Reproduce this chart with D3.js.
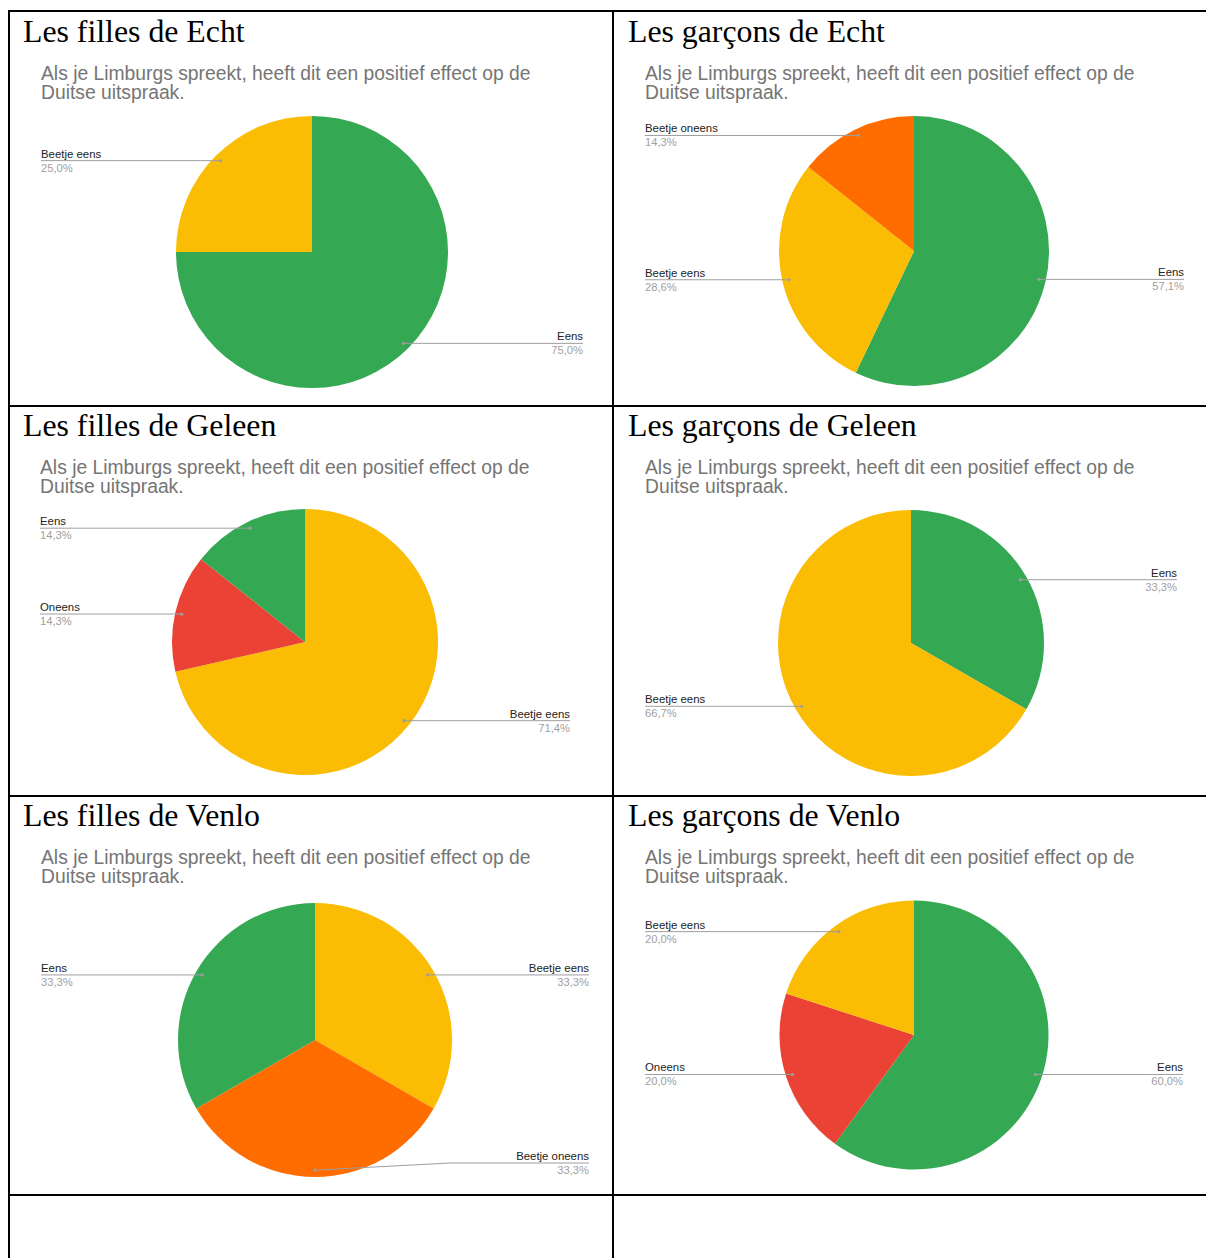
<!DOCTYPE html>
<html>
<head>
<meta charset="utf-8">
<script src="https://cdn.jsdelivr.net/npm/d3@7"></script>
<style>
  body { margin: 0; background: #fff; }
  svg { display: block; }
</style>
</head>
<body>
<svg width="1206" height="1258"></svg>
<script>
  // titles of the six cells
  var titles = ["Les filles de Echt", "Les garçons de Echt",
                "Les filles de Geleen", "Les garçons de Geleen",
                "Les filles de Venlo", "Les garçons de Venlo"];
  var question = ["Als je Limburgs spreekt, heeft dit een positief effect op de", "Duitse uitspraak."];

  // slices per chart, in drawing order (clockwise from 12 o'clock)
  var echtFillesLabels = ["Eens", "Beetje eens"];
  var echtFillesValues = [75.0, 25.0];
  var echtGarconsLabels = ["Eens", "Beetje eens", "Beetje oneens"];
  var echtGarconsValues = [57.1, 28.6, 14.3];
  var geleenFillesLabels = ["Beetje eens", "Oneens", "Eens"];
  var geleenFillesValues = [71.4, 14.3, 14.3];
  var geleenGarconsLabels = ["Eens", "Beetje eens"];
  var geleenGarconsValues = [33.3, 66.7];
  var venloFillesLabels = ["Beetje eens", "Beetje oneens", "Eens"];
  var venloFillesValues = [33.3, 33.3, 33.3];
  var venloGarconsLabels = ["Eens", "Oneens", "Beetje eens"];
  var venloGarconsValues = [60.0, 20.0, 20.0];

  var answers = ["Eens", "Beetje eens", "Beetje oneens", "Oneens"];
  var answerColors = ["#34a853", "#fbbc04", "#ff6d01", "#ea4335"];

  var labelSets = [echtFillesLabels, echtGarconsLabels, geleenFillesLabels, geleenGarconsLabels, venloFillesLabels, venloGarconsLabels];
  var valueSets = [echtFillesValues, echtGarconsValues, geleenFillesValues, geleenGarconsValues, venloFillesValues, venloGarconsValues];

  // layout of each cell (title origin, pie centre/radius, label columns)
  var layout = [
    {tx: 23,  ty: 42,  cx: 312, cy: 252,  r: 136,   left: 41,  right: 583,  maxY: 9999},
    {tx: 628, ty: 42,  cx: 914, cy: 251,  r: 135,   left: 645, right: 1184, maxY: 9999},
    {tx: 23,  ty: 436, cx: 305, cy: 642,  r: 133,   left: 40,  right: 570,  maxY: 9999},
    {tx: 628, ty: 436, cx: 911, cy: 643,  r: 133,   left: 645, right: 1177, maxY: 9999},
    {tx: 23,  ty: 826, cx: 315, cy: 1040, r: 137,   left: 41,  right: 589,  maxY: 1163},
    {tx: 628, ty: 826, cx: 914, cy: 1035, r: 134.5, left: 645, right: 1183, maxY: 9999}
  ];

  var svg = d3.select("svg");
  svg.append("rect").attr("width", 1206).attr("height", 1258).attr("fill", "#fff");

  var color = d3.scaleOrdinal().domain(answers).range(answerColors);
  var fmt = function(v) { return d3.format(".1f")(v).replace(".", ",") + "%"; };
  var pie = d3.pie().sort(null).value(function(d) { return d.value; });

  layout.forEach(function(L, i) {
    var g = svg.append("g");
    g.append("text")
      .attr("x", L.tx).attr("y", L.ty)
      .attr("font-family", "Liberation Serif, Times New Roman, serif")
      .attr("font-size", "31.8px")
      .attr("fill", "#000")
      .text(titles[i]);

    g.selectAll("text.q")
      .data(question)
      .enter().append("text")
        .attr("class", "q")
        .attr("x", L.left)
        .attr("y", function(d, k) { return L.ty + 38 + k * 19; })
        .attr("font-family", "Liberation Sans, Arial, sans-serif")
        .attr("font-size", "19.3px")
        .attr("fill", "#757575")
        .text(function(d) { return d; });

    var data = labelSets[i].map(function(lab, k) { return {label: lab, value: valueSets[i][k]}; });
    var arcs = pie(data);
    var arc = d3.arc().innerRadius(0).outerRadius(L.r);
    var dotArc = d3.arc().innerRadius(L.r * 0.95).outerRadius(L.r * 0.95);

    var pg = g.append("g").attr("transform", "translate(" + L.cx + "," + L.cy + ")");
    pg.selectAll("path")
      .data(arcs)
      .enter().append("path")
        .attr("d", arc)
        .attr("fill", function(d) { return color(d.data.label); });

    arcs.forEach(function(a) {
      var c = dotArc.centroid(a);
      var dx = L.cx + c[0], dy = L.cy + c[1];
      var ly = Math.min(dy, L.maxY);
      var onLeft = c[0] < -1;
      var lx = onLeft ? L.left : L.right;
      var path = ly === dy
        ? "M" + dx + "," + dy + "H" + lx
        : "M" + dx + "," + dy + "L" + (dx + 135) + "," + ly + "H" + lx;
      g.append("path")
        .attr("d", path)
        .attr("fill", "none")
        .attr("stroke", "#9e9e9e")
        .attr("stroke-width", 1);
      g.append("circle")
        .attr("cx", dx).attr("cy", dy).attr("r", 1.6)
        .attr("fill", "#9e9e9e");
      g.append("text")
        .attr("x", lx).attr("y", ly - 3)
        .attr("text-anchor", onLeft ? "start" : "end")
        .attr("font-family", "Liberation Sans, Arial, sans-serif")
        .attr("font-size", "11.4px")
        .attr("fill", "#222")
        .text(a.data.label);
      g.append("text")
        .attr("x", lx).attr("y", ly + 11)
        .attr("text-anchor", onLeft ? "start" : "end")
        .attr("font-family", "Liberation Sans, Arial, sans-serif")
        .attr("font-size", "11.2px")
        .attr("fill", "#a0a0a0")
        .text(fmt(a.data.value));
    });
  });

  // table grid lines
  var grid = svg.append("g").attr("stroke", "#000").attr("stroke-width", 2);
  [11, 406, 796, 1195].forEach(function(y) {
    grid.append("line").attr("x1", 8).attr("x2", 1206).attr("y1", y).attr("y2", y);
  });
  [9, 613].forEach(function(x) {
    grid.append("line").attr("x1", x).attr("x2", x).attr("y1", 10).attr("y2", 1258);
  });
</script>
</body>
</html>
